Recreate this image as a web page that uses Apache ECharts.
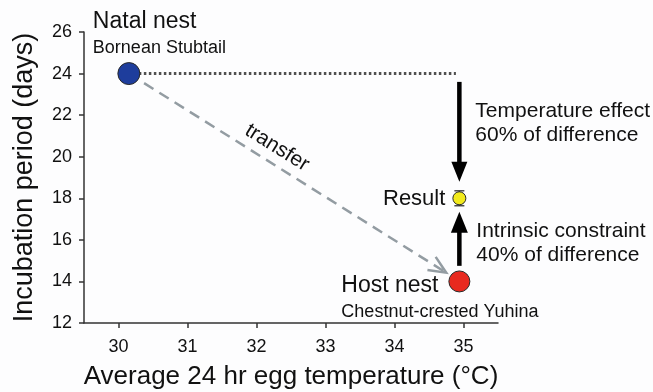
<!DOCTYPE html>
<html><head><meta charset="utf-8">
<script src="https://cdn.jsdelivr.net/npm/echarts@6/dist/echarts.min.js"></script>
<style>html,body{margin:0;padding:0;background:#fff}#c{width:653px;height:392px}</style>
</head><body><div id="c"></div>
<script>
const xTicks = [30, 31, 32, 33, 34, 35];
const yTicks = [12, 14, 16, 18, 20, 22, 24, 26];
const nestNames = ['Natal nest', 'Host nest', 'Result'];
const speciesNames = ['Bornean Stubtail', 'Chestnut-crested Yuhina'];
const eggTemps = [30.15, 34.94, 34.94];
const incubationDays = [24, 14, 18];
const resultError = [17.64, 18.36];
const effectLabels = ['Temperature effect', '60% of difference'];
const constraintLabels = ['Intrinsic constraint', '40% of difference'];
const transferLabel = 'transfer';
const dottedLine = [[30.15, 24], [34.89, 24]];
const tempArrow = [[34.94, 23.6], [34.94, 18.8]];
const constraintArrow = [[34.94, 14.75], [34.94, 17.35]];
const transferArrow = [[30.15, 24], [34.75, 14.42]];

const FF = '"Liberation Sans", Arial, Helvetica, sans-serif';
const chart = echarts.init(document.getElementById('c'), null, {renderer: 'canvas'});

function txt(x, y, s, size, align, rot) {
  return {type: 'text', x: x, y: y, rotation: rot || 0,
    style: {text: s, fontSize: size, fontFamily: FF, fill: '#111', align: align || 'left', verticalAlign: 'middle'}};
}

function renderItem(params, api) {
  const c = p => api.coord(p);
  const kids = [];
  // dotted horizontal line
  const d0 = c(dottedLine[0]), d1 = c(dottedLine[1]);
  kids.push({type: 'line', shape: {x1: d0[0], y1: d0[1], x2: d1[0], y2: d1[1]},
    style: {stroke: '#505050', lineWidth: 3, lineDash: [2.5, 2.5]}});
  // transfer dashed arrow
  const t0 = c(transferArrow[0]), t1 = c(transferArrow[1]);
  const ang = Math.atan2(t1[1] - t0[1], t1[0] - t0[0]);
  const hl = 19, ha = 0.42;
  kids.push({type: 'line', shape: {x1: t0[0], y1: t0[1], x2: t1[0] - 2 * Math.cos(ang), y2: t1[1] - 2 * Math.sin(ang)},
    style: {stroke: '#939ca2', lineWidth: 2.5, lineDash: [11, 7]}});
  kids.push({type: 'polyline', shape: {points: [
      [t1[0] - hl * Math.cos(ang - ha), t1[1] - hl * Math.sin(ang - ha)], t1,
      [t1[0] - hl * Math.cos(ang + ha), t1[1] - hl * Math.sin(ang + ha)]]},
    style: {stroke: '#939ca2', lineWidth: 2.5, fill: null}});
  // transfer label
  const f = 0.44;
  const mx = t0[0] + (t1[0] - t0[0]) * f, my = t0[1] + (t1[1] - t0[1]) * f;
  const nx = Math.sin(ang), ny = -Math.cos(ang);
  kids.push(txt(mx + nx * 16, my + ny * 16, transferLabel, 21, 'center', -ang));
  // solid arrows
  function solid(p0, p1, headL, headW) {
    const a = c(p0), b = c(p1);
    const dir = b[1] > a[1] ? 1 : -1;
    const baseY = b[1] - dir * headL;
    kids.push({type: 'line', shape: {x1: a[0], y1: a[1], x2: a[0], y2: baseY + dir * 1},
      style: {stroke: '#000', lineWidth: 4.5}});
    kids.push({type: 'polygon', shape: {points: [[b[0] - headW / 2, baseY], [b[0] + headW / 2, baseY], [b[0], b[1]]]},
      style: {fill: '#000'}});
  }
  solid(tempArrow[0], tempArrow[1], 20, 16);
  solid(constraintArrow[0], constraintArrow[1], 21, 17);
  // error bar
  const eLo = c([eggTemps[2], resultError[0]]), eHi = c([eggTemps[2], resultError[1]]);
  const es = {stroke: '#333', lineWidth: 1.3};
  kids.push({type: 'line', shape: {x1: eLo[0], y1: eLo[1], x2: eHi[0], y2: eHi[1]}, style: es});
  kids.push({type: 'line', shape: {x1: eLo[0] - 5, y1: eLo[1], x2: eLo[0] + 5, y2: eLo[1]}, style: es});
  kids.push({type: 'line', shape: {x1: eHi[0] - 5, y1: eHi[1], x2: eHi[0] + 5, y2: eHi[1]}, style: es});
  // point labels
  const pN = c([eggTemps[0], incubationDays[0]]);
  const pH = c([eggTemps[1], incubationDays[1]]);
  const pR = c([eggTemps[2], incubationDays[2]]);
  kids.push(txt(pN[0] - 36, pN[1] - 51.5, nestNames[0], 23));
  kids.push(txt(pN[0] - 36, pN[1] - 25.5, speciesNames[0], 18));
  kids.push(txt(pH[0] - 118, pH[1] + 4, nestNames[1], 23));
  kids.push(txt(pH[0] - 118, pH[1] + 30.5, speciesNames[1], 18));
  kids.push(txt(pR[0] - 14, pR[1] + 0.5, nestNames[2], 22, 'right'));
  kids.push(txt(pR[0] + 16, pR[1] - 87, effectLabels[0], 21));
  kids.push(txt(pR[0] + 16, pR[1] - 63, effectLabels[1], 21));
  kids.push(txt(pR[0] + 17, pR[1] + 33, constraintLabels[0], 21));
  kids.push(txt(pR[0] + 17, pR[1] + 57, constraintLabels[1], 21));
  return {type: 'group', children: kids};
}

const pointColors = ['#1e3d9c', '#e8291f', '#f2ea1c'];
const pointSizes = [22, 21, 13];

chart.setOption({
  backgroundColor: '#fdfdfe',
  animation: false,
  grid: {left: 84, right: 155, top: 32, bottom: 69, containLabel: false, outerBoundsMode: 'none'},
  xAxis: {
    type: 'value', min: 29.5, max: 35.5,
    axisLine: {show: true, lineStyle: {color: '#333', width: 1.5}},
    axisTick: {show: true, customValues: xTicks, length: 5, lineStyle: {color: '#333', width: 1.5}},
    axisLabel: {customValues: xTicks, fontSize: 18, color: '#111', margin: 15, fontFamily: FF},
    splitLine: {show: false},
    name: 'Average 24 hr egg temperature (°C)', nameLocation: 'middle', nameGap: 41,
    nameTextStyle: {fontSize: 26, color: '#111', fontFamily: FF}
  },
  yAxis: {
    type: 'value', min: 12, max: 26, interval: 2,
    axisLine: {show: true, lineStyle: {color: '#333', width: 1.5}},
    axisTick: {show: true, length: 5, lineStyle: {color: '#333', width: 1.5}},
    axisLabel: {fontSize: 18, color: '#111', margin: 12, fontFamily: FF},
    splitLine: {show: false},
    name: 'Incubation period (days)', nameLocation: 'middle', nameGap: 46, nameRotate: 90,
    nameTextStyle: {fontSize: 27, color: '#111', fontFamily: FF}
  },
  series: [
    {type: 'custom', renderItem: renderItem, data: [[eggTemps[2], incubationDays[2]]], clip: false, z: 2, silent: true},
    {type: 'scatter', z: 5, silent: true,
      data: nestNames.map((n, i) => ({name: n, value: [eggTemps[i], incubationDays[i]], symbolSize: pointSizes[i],
        itemStyle: {color: pointColors[i], borderColor: '#2a2a2a', borderWidth: 1, opacity: 1}}))}
  ]
});
</script></body></html>
